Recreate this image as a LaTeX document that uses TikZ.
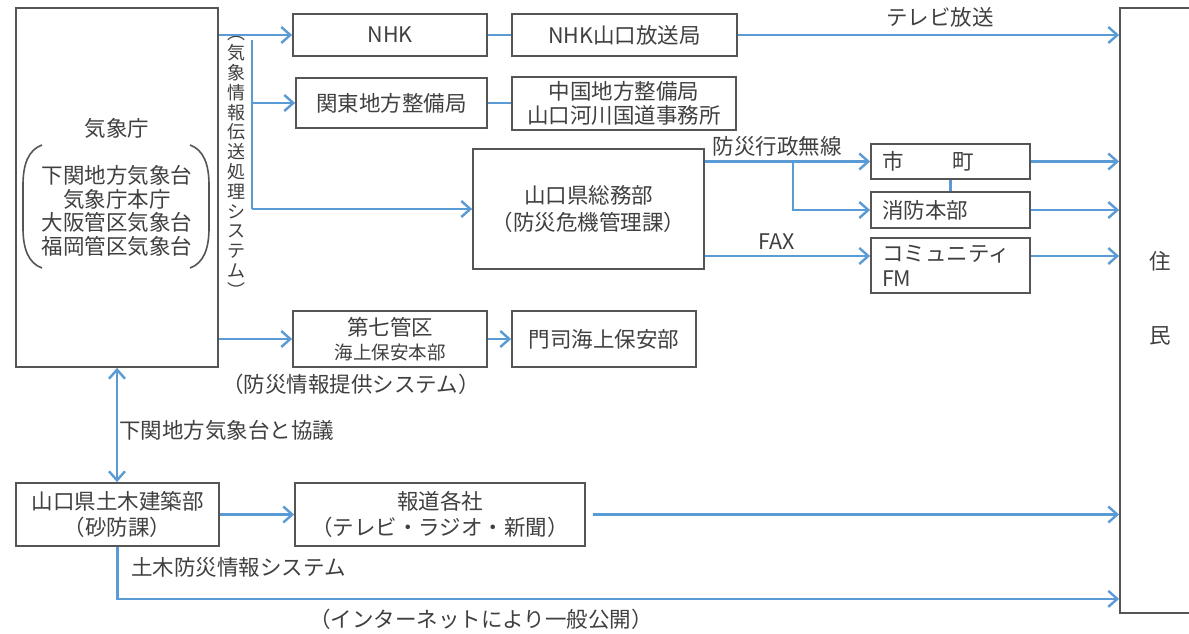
\documentclass[tikz,border=0pt]{standalone}
\usepackage{fontspec}
\setmainfont{Noto Sans CJK JP}
\usetikzlibrary{arrows.meta}
\definecolor{ink}{HTML}{404040}
\definecolor{framec}{HTML}{555555}
\definecolor{flowc}{HTML}{5B9BD5}
\begin{document}
\begin{tikzpicture}[x=1pt,y=-1pt,
  font=\fontsize{21.5}{26}\selectfont, text=ink,
  >={Straight Barb[length=9pt,width=16pt]},
  box/.style={draw=framec, line width=1.8pt, inner sep=0pt, align=center},
  arr/.style={draw=flowc, line width=2.4pt, ->},
  dbl/.style={draw=flowc, line width=2.4pt, <->},
  link/.style={draw=flowc, line width=2.4pt},
  lbl/.style={inner sep=0pt}]
\useasboundingbox (0,0) rectangle (1189,634);
\clip (0,0) rectangle (1189,634);
\fill[white] (0,0) rectangle (1189,634);

% boxes
\node[box, minimum width=202pt, minimum height=359pt] (kisho) at (117,187.5) {};
\node[lbl] (kishoT) at (117,128) {気象庁};
\node[lbl, align=center, font=\fontsize{21.5}{23.7}\selectfont] (kishoL) at (117,211) {下関地方気象台\\気象庁本庁\\大阪管区気象台\\福岡管区気象台};
\draw[framec, line width=1.6pt] (42,145) .. controls (28,150) and (23,165) .. (23,185) -- (23,228) .. controls (23,248) and (28,263) .. (42,268);
\draw[framec, line width=1.6pt] (190,145) .. controls (204,150) and (209,165) .. (209,185) -- (209,228) .. controls (209,248) and (204,263) .. (190,268);
\node[lbl, align=center, font=\fontsize{18}{19.8}\selectfont] (sysv) at (236,167) {︵\\気\\象\\情\\報\\伝\\送\\処\\理\\シ\\ス\\テ\\ム\\︶};

\node[box, minimum width=194pt, minimum height=42pt] (nhk) at (390,35) {NHK};
\node[box, minimum width=225pt, minimum height=42pt] (nhkyg) at (624.5,35) {NHK山口放送局};
\node[box, minimum width=191pt, minimum height=50pt] (kanto) at (391.5,103) {関東地方整備局};
\node[box, minimum width=224pt, minimum height=53pt, font=\fontsize{21.5}{24}\selectfont] (chugoku) at (624,103.5) {中国地方整備局\\山口河川国道事務所};
\node[box, minimum width=231pt, minimum height=120pt, font=\fontsize{21.5}{26.5}\selectfont] (somu) at (588.5,209) {山口県総務部\\（防災危機管理課）};
\node[box, minimum width=159pt, minimum height=35pt, text width=137pt, align=left] (shicho) at (950.5,161.5) {市\hspace{49pt}町};
\node[box, minimum width=159pt, minimum height=36pt, text width=137pt, align=left] (shobo) at (950.5,210) {消防本部};
\node[box, minimum width=159pt, minimum height=55pt, text width=137pt, align=left, font=\fontsize{21.5}{25}\selectfont] (fm) at (950.5,265.5) {コミュニティ\\FM};
\node[box, minimum width=100pt, minimum height=605pt] (juumin) at (1170,310.5) {};
\node[lbl, align=center, font=\fontsize{21.5}{74}\selectfont] (juuminT) at (1160,298) {住\\民};
\node[box, minimum width=194pt, minimum height=56pt, font=\fontsize{21.5}{24}\selectfont] (daishichi) at (390,339) {第七管区\\{\fontsize{18.5}{20}\selectfont 海上保安本部}};
\node[box, minimum width=184pt, minimum height=56pt] (moji) at (604,339) {門司海上保安部};
\node[box, minimum width=203pt, minimum height=63pt] (doboku) at (117.5,514.5) {山口県土木建築部\\（砂防課）};
\node[box, minimum width=290pt, minimum height=63pt] (hodo) at (440,514.5) {報道各社\\（テレビ・ラジオ・新聞）};

% labels
\node[lbl] (lTV) at (940,17) {テレビ放送};
\node[lbl] (lMusen) at (777,146) {防災行政無線};
\node[lbl] (lFax) at (777,242) {FAX};
\node[lbl] (lTeikyo) at (351,384) {（防災情報提供システム）};
\node[lbl, anchor=west] (lKyogi) at (119,430) {下関地方気象台と協議};
\node[lbl, anchor=west] (lDoboku) at (131,567) {土木防災情報システム};
\node[lbl] (lNet) at (481,619) {（インターネットにより一般公開）};

% connectors
\draw[arr] (kisho.east |- nhk.west) -- (nhk.west);
\draw[link] (nhk.east) -- (nhkyg.west);
\draw[arr] (nhkyg.east) -- (nhkyg.east -| juumin.west);
\coordinate (bus) at (252,40);
\draw[link] (bus) -- (bus |- somu.west);
\draw[arr] (bus |- kanto.west) -- (kanto.west);
\draw[arr] (bus |- somu.west) -- (somu.west);
\draw[link] (kanto.east) -- (kanto.east -| chugoku.west);
\draw[arr] (somu.east |- shicho.west) -- (shicho.west);
\coordinate (split) at (793,161.5);
\draw[arr] (split) |- (shobo.west);
\draw[link] (shicho.south) -- (shobo.north);
\coordinate (fmin) at ([yshift=9.5pt]fm.west);
\draw[arr] (somu.east |- fmin) -- (fmin);
\draw[arr] (shicho.east) -- (shicho.east -| juumin.west);
\draw[arr] (shobo.east) -- (shobo.east -| juumin.west);
\draw[arr] (fm.east |- fmin) -- (fmin -| juumin.west);
\draw[arr] (kisho.east |- daishichi.west) -- (daishichi.west);
\draw[arr] (daishichi.east) -- (moji.west);
\draw[dbl] (kisho.south) -- (kisho.south |- doboku.north);
\draw[arr] (doboku.east) -- (hodo.west);
\draw[arr] ([xshift=7pt]hodo.east) -- (hodo.east -| juumin.west);
\draw[arr] (doboku.south) |- ([yshift=15pt]juumin.south west);
\end{tikzpicture}
\end{document}
